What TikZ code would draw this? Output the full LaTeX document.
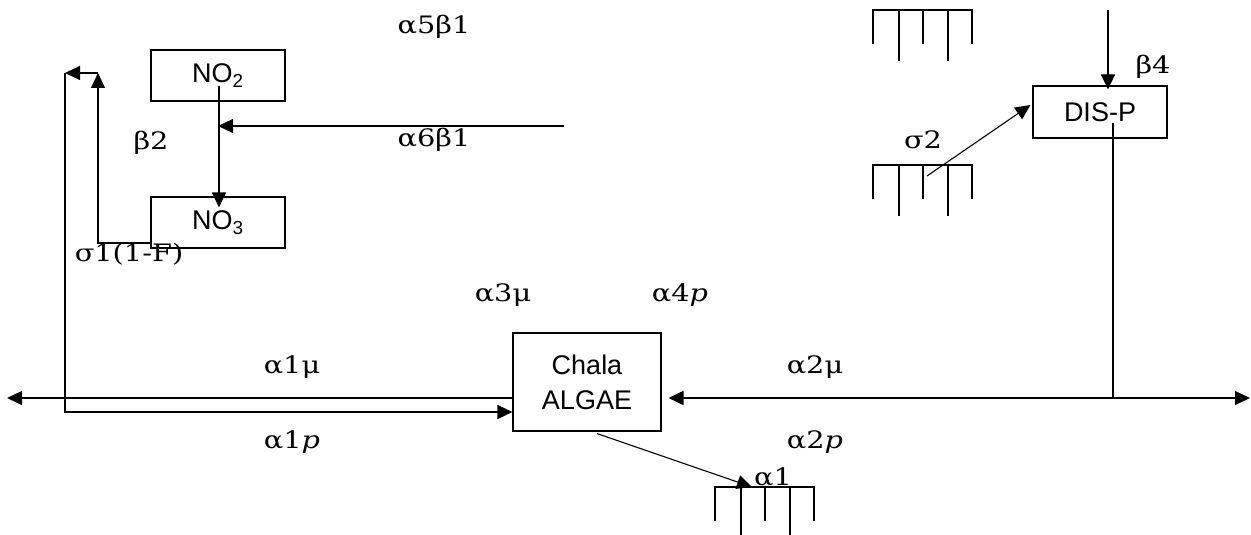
\documentclass[tikz,border=0pt]{standalone}
\usepackage{graphicx}
\usepackage{fontspec}
\setmainfont{DejaVu Serif}
\newfontfamily\boxfont{Liberation Sans}
\newcommand\widelbl[1]{\scalebox{1.2}[1]{#1}}
\usetikzlibrary{arrows.meta,calc}
\begin{document}
\begin{tikzpicture}[x=1pt,y=-1pt,line width=1.1pt,
  box/.style={draw,rectangle,font=\boxfont\fontsize{27}{35}\selectfont,inner sep=0pt,align=center},
  lbl/.style={font=\fontsize{24}{28}\selectfont,inner sep=0pt},
  arr/.style={-{Triangle[length=15pt,width=14pt]}},
  sed/.pic={\draw (0,34) -- (0,0) -- (99,0) -- (99,34);
            \draw (26,0) -- (26,51) (50,0) -- (50,34) (75,0) -- (75,51);}
  ]
\useasboundingbox (0,0) rectangle (1251,535);

% boxes
\node[box,minimum width=134pt,minimum height=51pt] (no2) at (218,75.5) {NO\textsubscript{2}};
\node[box,minimum width=134pt,minimum height=51pt] (no3) at (218,222.5) {NO\textsubscript{3}};
\node[box,minimum width=148pt,minimum height=98pt] (alg) at (587,382) {Chala\\ALGAE};
\node[box,minimum width=134pt,minimum height=52pt] (dis) at (1100,112) {DIS-P};

% sediment symbols
\pic at (873,10) {sed};
\pic at (873,165) {sed};
\pic at (715,487) {sed};

% labels
\node[lbl] (l1) at (434,27) {\widelbl{α5β1}};
\node[lbl] (l2) at (434,140) {\widelbl{α6β1}};
\node[lbl] (l3) at (151,143) {\widelbl{β2}};
\node[lbl] (l4) at (129,254) {\widelbl{σ1(1-F)}};
\node[lbl] (l5) at (503,295) {\widelbl{α3μ}};
\node[lbl] (l6) at (680,295) {\widelbl{α4\textit{p}}};
\node[lbl] (l7) at (292,367) {\widelbl{α1μ}};
\node[lbl] (l8) at (292,442) {\widelbl{α1\textit{p}}};
\node[lbl] (l9) at (815,367) {\widelbl{α2μ}};
\node[lbl] (l10) at (815,442) {\widelbl{α2\textit{p}}};
\node[lbl] (l11) at (773,477) {\widelbl{α1}};
\node[lbl] (l12) at (923,140) {\widelbl{σ2}};
\node[lbl] (l13) at (1153,67) {\widelbl{β4}};

% coordinates
\coordinate (r6) at (564,126);
\coordinate (n3b) at (151,243);
\coordinate (j1) at (98,243);
\coordinate (j2) at (98,73);
\coordinate (j3) at (65,73);
\coordinate (j4) at (65,412);
\coordinate (lend) at (7,398);
\coordinate (rj) at (1113,398);
\coordinate (rend) at (1250,398);
\coordinate (ptop) at (1108,10);
\coordinate (s2) at (927,176);
\coordinate (a1end) at (752,487);

% connectors
\draw[arr] ($(no2.center)+(1,11)$) -- ($(no3.north)+(1,11)$);
\draw[arr] (r6) -- (r6 -| no2.center);
\draw[arr] (n3b) -- (j1) -- (j2);
\draw[arr] (j2) -- (j3);
\draw[arr] (j3) -- (j4) -- (j4 -| alg.west);
\draw[arr] (lend -| alg.west) -- (lend);
\draw ($(dis.center)+(13,11)$) -- (rj);
\draw[arr,line width=1.8pt] (rj) -- ($(rj -| alg.east)+(7,0)$);
\draw[arr] (rj) -- (rend);
\draw[arr] (ptop) -- ($(ptop |- dis.north)+(0,4)$);
\draw[arr] (s2) -- ($(dis.west)+(-2,-7)$);
\draw[arr] ($(alg.south)+(10,2)$) -- (a1end);
\end{tikzpicture}
\end{document}
